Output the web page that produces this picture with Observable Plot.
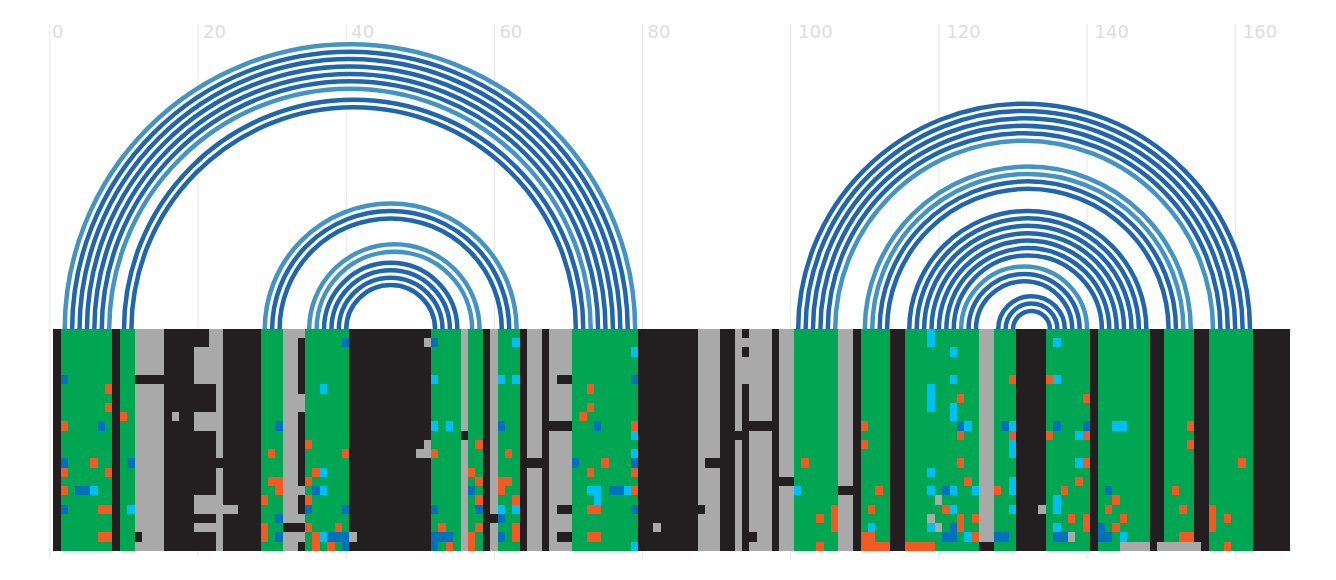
<!DOCTYPE html>
<html>
<head>
<meta charset="utf-8">
<style>html,body{margin:0;padding:0;background:#fff}svg{display:block}</style>
<script src="https://cdn.jsdelivr.net/npm/d3@7"></script>
<script src="https://cdn.jsdelivr.net/npm/@observablehq/plot@0.6"></script>
</head>
<body>
<div id="chart"></div>
<script>
const tickOne = [0];
const tickTwo = [20, 40, 60, 80];
const tickThree = [100, 120, 140, 160];

// Arc pairs: [start position, end position]
const darkArcs = [[3,78],[4,77],[5,76],[6,75],[7,74],[10,72],[11,71],
  [30,62],[31,61],[37,55],[38,54],[39,53],[40,52],
  [101,162],[102,161],[103,160],[104,159],[105,158],
  [112,152],[113,151],
  [116,148],[117,147],[118,146],[119,145],[120,144],[121,143],[122,142],
  [124,139],[125,138],[128,137],[129,136],[130,135]];
const lightArcs = [[2,79],[8,73],[29,63],[35,58],[36,57],[106,157],[110,154],[111,153],[123,140]];

// Column runs: [first position, last position]
const blackRuns = [[1,1],[9,9],[16,22],[24,28],[34,34],[41,51],[59,59],[64,64],[67,67],[80,87],[91,92],[94,94],[98,98],[109,109],[114,115],[131,134],[141,141],[149,150],[155,156],[163,167]];
const grayRuns = [[12,15],[23,23],[32,33],[56,56],[60,60],[65,66],[68,70],[88,90],[93,93],[95,97],[99,100],[107,108],[126,127]];
const greenRuns = [[2,8],[10,11],[29,31],[35,40],[52,55],[57,58],[61,63],[71,79],[101,106],[110,113],[116,125],[128,130],[135,140],[142,148],[151,154],[157,162]];

// Single-row cells: [row, first position, last position]
const grayCells = [[0,22,22],[1,22,22],[2,20,22],[3,20,22],[4,20,22],[5,20,22],[9,17,17],[9,20,22],[10,20,22],[18,20,22],[19,20,22],[19,24,25],[21,20,22],
  [0,34,34],[7,34,34],[8,34,34],[17,34,34],[20,34,34],[22,34,34],[1,51,51],[12,51,51],[13,50,51],[22,41,41],[21,82,82],
  [1,94,94],[3,94,94],[4,94,94],[5,94,94],[18,120,120],[21,120,120],[20,119,119],[19,134,134],[22,138,138],[23,145,148],[23,150,155]];
const blackCells = [[5,12,15],[22,12,12],[14,23,23],[21,32,33],[11,56,56],[20,60,60],[5,69,70],[10,68,70],[14,65,66],[19,69,70],[22,69,70],
  [10,95,97],[11,93,93],[14,89,90],[16,99,100],[17,107,108],[19,88,88],[22,95,95],[23,126,127]];
const orangeCells = [[6,8,8],[8,8,8],[9,10,10],[10,2,2],[14,6,6],[15,2,2],[15,8,8],[17,2,2],[19,7,8],[22,7,8],
  [12,35,35],[13,30,30],[13,40,40],[13,52,52],[15,36,36],[15,57,57],[16,30,31],[16,35,35],[17,31,31],[18,29,29],[18,35,35],
  [21,29,29],[21,35,35],[21,39,39],[21,53,53],[22,29,29],[22,36,36],[22,57,57],[23,36,36],[23,38,38],[23,54,54],[23,57,57],
  [6,73,73],[8,73,73],[9,72,72],[10,79,79],[12,58,58],[13,62,62],[14,75,75],[15,73,73],[15,79,79],[16,58,58],[16,61,62],[17,61,61],[17,79,79],
  [18,58,58],[18,63,63],[19,73,74],[21,58,58],[21,63,63],[22,63,63],[22,73,74],
  [14,102,102],[17,112,112],[19,106,106],[19,111,111],[20,104,104],[20,106,106],[21,106,106],[22,110,111],[23,104,104],[23,110,113],[10,110,110],[12,110,110],
  [23,116,119],[5,130,130],[5,135,135],[7,123,123],[7,140,140],[11,123,123],[11,130,130],[11,135,135],[11,140,140],[14,123,123],[14,140,140],
  [16,124,124],[16,139,139],[17,128,128],[17,137,137],[19,121,121],[20,123,123],[20,125,125],[20,138,138],[20,140,140],[21,123,123],[21,140,140],[22,125,125],
  [10,154,154],[12,154,154],[14,161,161],[17,152,152],[18,144,144],[19,143,143],[19,153,153],[19,157,157],[20,145,145],[20,157,157],[20,159,159],[21,144,144],[21,157,157],[22,153,154],[23,159,159]];
const blueCells = [[5,2,2],[10,7,7],[14,2,2],[14,11,11],[17,4,5],[19,2,2],
  [1,40,40],[1,52,52],[10,31,31],[17,36,36],[17,57,57],[19,35,35],[19,40,40],[19,52,52],[20,31,31],[22,31,31],[22,38,40],[22,52,54],[23,40,40],[23,52,52],
  [5,79,79],[10,61,61],[10,74,74],[14,71,71],[14,79,79],[17,76,77],[19,58,58],[19,79,79],[20,61,61],[22,61,61],
  [10,123,123],[10,129,129],[10,136,136],[10,140,140],[17,121,121],[21,122,122],[21,142,142],[22,121,122],[22,128,129],[22,136,137],[22,142,143],[17,143,143]];
const cyanCells = [[17,6,6],[19,11,11],[5,52,52],[6,37,37],[10,52,52],[10,54,54],[15,37,37],[17,37,37],[22,37,37],
  [1,63,63],[2,79,79],[5,61,61],[5,63,63],[11,79,79],[13,79,79],[17,73,74],[17,78,78],[18,74,74],[19,61,61],[19,63,63],[23,79,79],
  [17,101,101],[21,111,111],
  [0,119,119],[1,119,119],[1,136,136],[2,122,122],[5,122,122],[5,136,136],[6,119,119],[7,119,119],[8,119,119],[8,122,122],[9,122,122],
  [10,124,124],[10,130,130],[11,139,139],[12,130,130],[13,130,130],[14,139,139],[15,119,119],[16,130,130],
  [17,119,119],[17,122,122],[17,125,125],[17,130,130],[18,136,136],[19,122,122],[19,130,130],[19,136,136],[21,119,119],[21,136,136],[22,124,124],
  [10,144,145],[22,145,145]];

const rowCount = 24;
const palette = {black:"#231f20", gray:"#a9a9a9", green:"#00a651", orange:"#f15a22", blue:"#0072bc", cyan:"#00bff3"};
const arcColors = {dark:"#2166ac", light:"#4393c3"};

const runRect = (runs, color) => runs.map(([a,b]) => ({x1:a-0.5, x2:b+0.5, y1:0, y2:rowCount, color}));
const cellRect = (cells, color) => cells.map(([r,a,b]) => ({x1:a-0.5, x2:b+0.5, y1:r, y2:r+1, color}));
const tiles = [
  ...runRect(blackRuns, palette.black), ...runRect(grayRuns, palette.gray), ...runRect(greenRuns, palette.green),
  ...cellRect(grayCells, palette.gray), ...cellRect(blackCells, palette.black),
  ...cellRect(orangeCells, palette.orange), ...cellRect(blueCells, palette.blue), ...cellRect(cyanCells, palette.cyan)
];
const arcs = [
  ...darkArcs.map(([a,b]) => ({a,b,color:arcColors.dark})),
  ...lightArcs.map(([a,b]) => ({a,b,color:arcColors.light}))
];

const tickText = (values, dx) => Plot.text(values, {x:d=>d, y:-32.97, text:d=>String(d), textAnchor:"start", lineAnchor:"top", dx, dy:1, fontSize:18, fill:"#dddddd"});

const chart = Plot.plot({
  width: 1336, height: 580,
  marginLeft: 49.4, marginRight: 45.7, marginTop: 24, marginBottom: 21,
  style: {background:"#fff", fontFamily:"'DejaVu Sans', sans-serif"},
  x: {axis:null, domain:[0,167.5], range:[49.4,1290.3]},
  y: {axis:null, domain:[-32.97,24.865], range:[24,559]},
  marks: [
    Plot.ruleX([...tickOne, ...tickTwo, ...tickThree], {x:d=>d, y1:-32.97, y2:24.865, stroke:"#e6e6e6", strokeWidth:1}),
    tickText(tickOne, 2),
    tickText(tickTwo, 5),
    tickText(tickThree, 7.5),
    Plot.arrow(arcs, {x1:"a", x2:"b", y1:()=>0, y2:()=>0, bend:90, headLength:0, stroke:"color", strokeWidth:4.5}),
    Plot.rect(tiles, {x1:"x1", x2:"x2", y1:"y1", y2:"y2", fill:"color", shapeRendering:"crispEdges"})
  ]
});
document.getElementById("chart").appendChild(chart);
</script>
</body>
</html>
